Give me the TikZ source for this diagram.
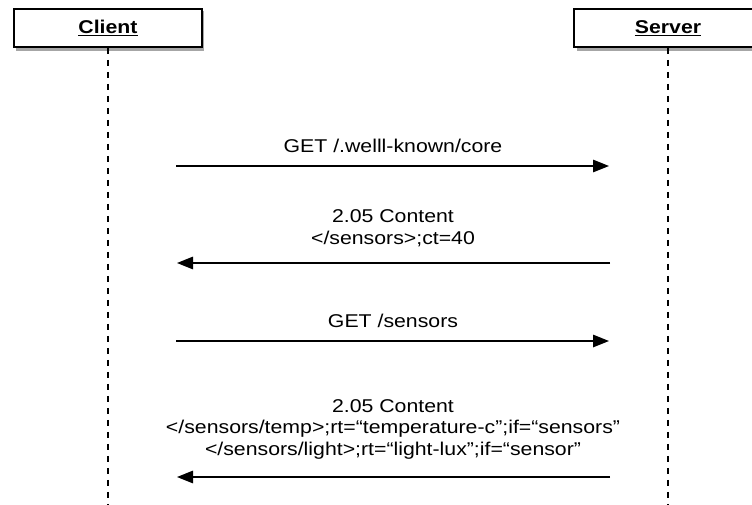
\documentclass[tikz,border=0pt]{standalone}
\usepackage{fontspec}
\setmainfont{Liberation Sans}[FakeStretch=1.15]
\usetikzlibrary{arrows.meta}
\tikzset{
  x=1pt, y=-1pt,
  headbox/.style={draw=black, line width=1.6pt, fill=white, minimum width=188pt,
    minimum height=38pt, inner sep=0pt, font=\fontsize{18.5}{22}\selectfont\bfseries},
  lifeline/.style={line width=1.4pt, dash pattern=on 6.5pt off 5.5pt},
  msg/.style={line width=1.4pt, -{Triangle[length=16pt,width=12.5pt]}},
  msgtext/.style={anchor=base, inner sep=0pt, align=center,
    font=\fontsize{18.5}{22}\selectfont},
}
\begin{document}
\begin{tikzpicture}
\useasboundingbox (0,0) rectangle (752,504);
\clip (0,0) rectangle (752,504);
% lifelines
\coordinate (cend) at (108,504);
\coordinate (send) at (668,504);
% drop shadows under the header boxes
\fill[black!35] (16,11) rectangle (204,50.5);
\fill[black!35] (577,11) rectangle (765,50.5);
\node[headbox] (client) at (108,28) {\underline{Client}};
\node[headbox] (server) at (668,28) {\underline{Server}};
\draw[lifeline] (client.south) -- (cend);
\draw[lifeline] (server.south) -- (send);
% message end points
\coordinate (m1a) at (176,166); \coordinate (m1b) at (609,166);
\coordinate (m2a) at (610,263); \coordinate (m2b) at (177,263);
\coordinate (m3a) at (176,341); \coordinate (m3b) at (609,341);
\coordinate (m4a) at (610,477); \coordinate (m4b) at (177,477);
\draw[msg] (m1a) -- (m1b);
\draw[msg] (m2a) -- (m2b);
\draw[msg] (m3a) -- (m3b);
\draw[msg] (m4a) -- (m4b);
% labels
\node[msgtext] (t1) at (393,152) {GET /.welll-known/core};
\node[msgtext] (t2a) at (393,222) {2.05 Content};
\node[msgtext] (t2b) at (393,244) {</sensors>;ct=40};
\node[msgtext] (t3) at (393,327) {GET /sensors};
\node[msgtext] (t4a) at (393,412) {2.05 Content};
\node[msgtext] (t4b) at (393,433) {</sensors/temp>;rt=“temperature-c”;if=“sensors”};
\node[msgtext] (t4c) at (393,455) {</sensors/light>;rt=“light-lux”;if=“sensor”};
\end{tikzpicture}
\end{document}
